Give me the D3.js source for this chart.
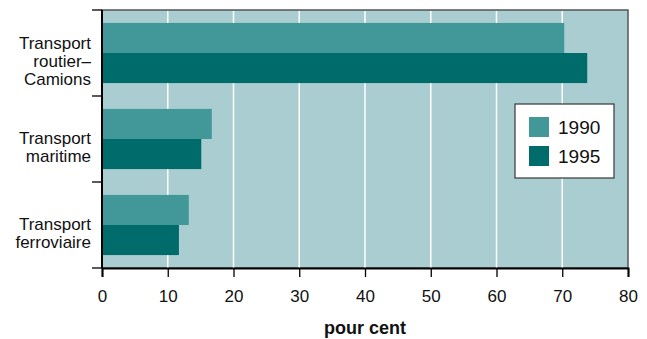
<!DOCTYPE html>
<html><head><meta charset="utf-8">
<script src="https://cdn.jsdelivr.net/npm/d3@7"></script>
<style>body{margin:0;background:#fff}svg{display:block;font-family:"Liberation Sans",Arial,sans-serif}</style>
</head><body><svg id="c" width="647" height="339"></svg>
<script>
const categories = [["Transport","routier–","Camions"],["Transport","maritime"],["Transport","ferroviaire"]];
const catKeys = ["road","sea","rail"];
const series = ["1990","1995"];
const values1990 = [70.3, 16.7, 13.2];
const values1995 = [73.8, 15.1, 11.7];
const xTicks = [0,10,20,30,40,50,60,70,80];
const colors = ["#429899","#006b6b"];

const svg = d3.select("#c");
const m = {l:102, r:19, t:10, b:71};
const W = 647, H = 339;
const x = d3.scaleLinear().domain([0,80]).range([m.l, W-m.r]);
const y = d3.scaleBand().domain(catKeys).range([m.t, H-m.b]).padding(0);
const ys = d3.scaleBand().domain(series).range([0, y.bandwidth()]).paddingInner(0).paddingOuter(0.43);

svg.append("rect").attr("x",m.l).attr("y",m.t).attr("width",W-m.r-m.l).attr("height",H-m.b-m.t)
  .attr("fill","#a9cdd0").attr("stroke","#555").attr("stroke-width",1.5);
svg.append("g").selectAll("line").data(xTicks.slice(1,-1)).join("line")
  .attr("x1",d=>x(d)).attr("x2",d=>x(d)).attr("y1",m.t+1).attr("y2",H-m.b)
  .attr("stroke","#fff").attr("stroke-width",1.5);

const data = catKeys.map((k,i)=>({k, v:[values1990[i], values1995[i]]}));
const g = svg.append("g").selectAll("g").data(data).join("g").attr("transform",d=>`translate(0,${y(d.k)})`);
g.selectAll("rect").data(d=>d.v.map((v,j)=>({s:series[j],v,j}))).join("rect")
  .attr("x",x(0)).attr("y",d=>ys(d.s)).attr("width",d=>x(d.v)-x(0)).attr("height",ys.bandwidth())
  .attr("fill",d=>colors[d.j]);

// x axis
const xa = svg.append("g").attr("transform",`translate(0,${H-m.b})`)
  .call(d3.axisBottom(x).tickValues(xTicks).tickSize(9).tickPadding(13));
xa.select(".domain").attr("stroke","#000").attr("stroke-width",2);
xa.selectAll(".tick line").attr("stroke","#000").attr("stroke-width",1.3);
xa.selectAll("text").attr("font-size",17).attr("fill","#111").attr("font-family","Liberation Sans, Arial, sans-serif");

// y axis with boundary ticks
const bounds = catKeys.map(k=>y(k)).concat([y(catKeys[2])+y.bandwidth()]);
svg.append("line").attr("x1",m.l).attr("x2",m.l).attr("y1",m.t).attr("y2",H-m.b).attr("stroke","#000").attr("stroke-width",2);
svg.append("g").selectAll("line").data(bounds).join("line")
  .attr("x1",m.l-10).attr("x2",m.l).attr("y1",d=>d).attr("y2",d=>d).attr("stroke","#000").attr("stroke-width",1.3);

// category labels
svg.append("g").selectAll("text").data(data).join("text")
  .attr("text-anchor","end").attr("font-size",17).attr("fill","#111")
  .each(function(d,i){
    const lines = categories[i];
    const cy = y(d.k)+y.bandwidth()/2 + 8;
    const lh = 18;
    const start = cy - (lines.length-1)*lh/2 + 6;
    d3.select(this).selectAll("tspan").data(lines).join("tspan")
      .attr("x",91).attr("y",(t,j)=>start+j*lh).text(t=>t);
  });

svg.append("text").attr("x",(x(0)+x(80))/2).attr("y",334).attr("text-anchor","middle")
  .attr("font-size",18).attr("font-weight","bold").attr("fill","#111").text("pour cent");

// legend
const lg = svg.append("g").attr("transform","translate(515,104)");
lg.append("rect").attr("width",99).attr("height",74).attr("fill","#fff").attr("stroke","#444").attr("stroke-width",1.3);
series.forEach((s,i)=>{
  lg.append("rect").attr("x",14).attr("y",13+i*29).attr("width",20).attr("height",20).attr("fill",colors[i]);
  lg.append("text").attr("x",43).attr("y",30+i*29).attr("font-size",19).attr("fill","#111").text(s);
});
</script></body></html>
